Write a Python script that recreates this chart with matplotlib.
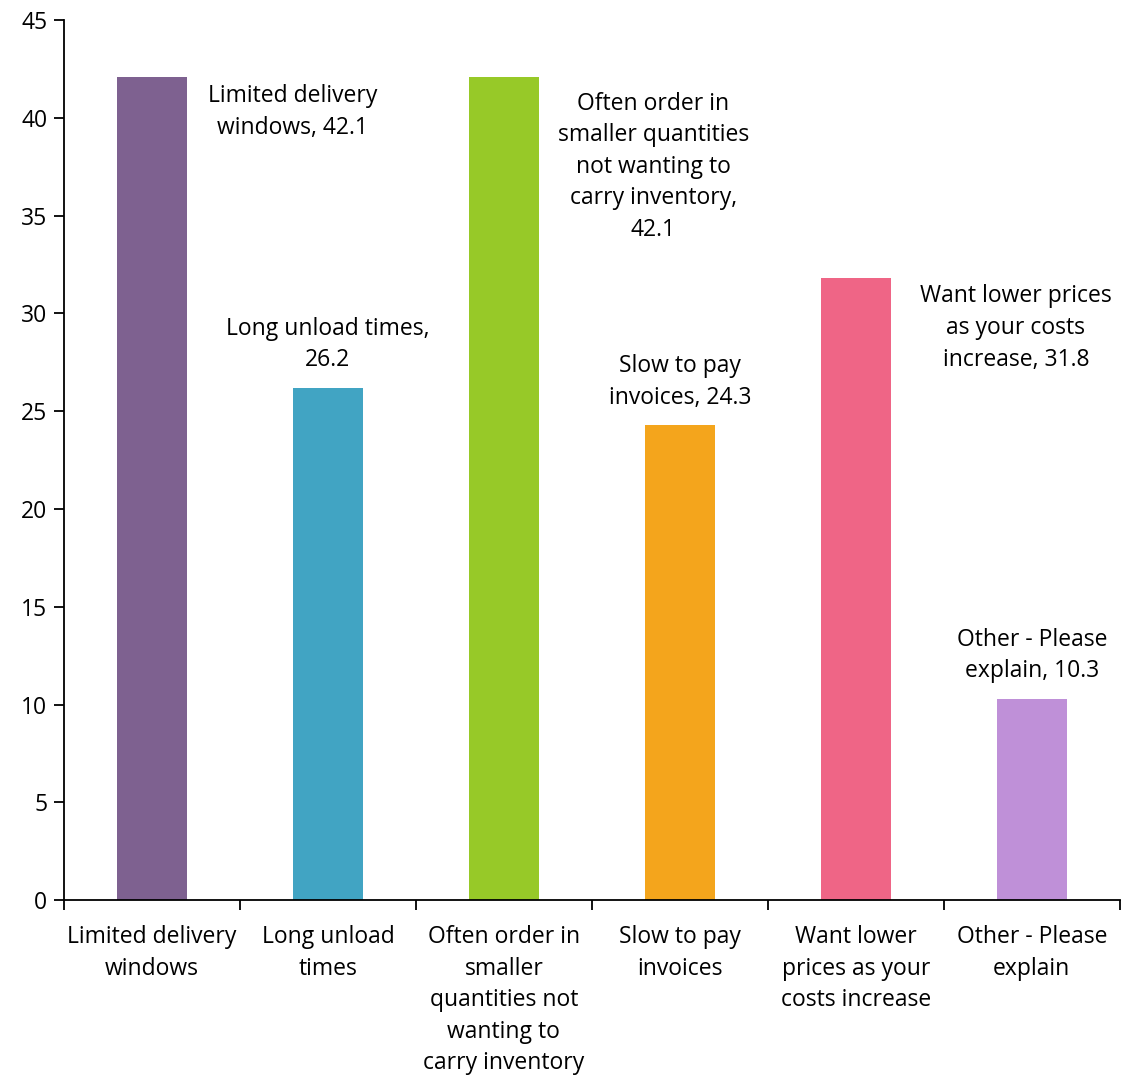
import matplotlib.pyplot as plt
import numpy as np

plt.rcParams['font.family'] = ['Open Sans', 'DejaVu Sans']

categories = [
    "Limited delivery\nwindows",
    "Long unload\ntimes",
    "Often order in\nsmaller\nquantities not\nwanting to\ncarry inventory",
    "Slow to pay\ninvoices",
    "Want lower\nprices as your\ncosts increase",
    "Other - Please\nexplain",
]
label_names = [
    "Limited delivery\nwindows,",
    "Long unload times,\n",
    "Often order in\nsmaller quantities\nnot wanting to\ncarry inventory,\n",
    "Slow to pay\ninvoices,",
    "Want lower prices\nas your costs\nincrease,",
    "Other - Please\nexplain,",
]
values = [42.1, 26.2, 42.1, 24.3, 31.8, 10.3]
colors = ["#7E6190", "#41A4C3", "#97C928", "#F4A51C", "#EF6586", "#BF90D8"]

# label placement relative to each bar (x in category units, y in data units)
label_dx = [0.80, 0.0, 0.85, 0.0, 0.91, 0.0]
label_dy = [-1.8, 2.2, -4.6, 2.2, -2.55, 2.2]

FS = 16.5
LS = 1.42

fig = plt.figure(figsize=(11.22, 10.78), dpi=100)
ax = fig.add_axes([0.057, 0.165, 0.941, 0.8165])

x = np.arange(len(values))
ax.bar(x, values, width=0.4, color=colors)

for i, (name, v) in enumerate(zip(label_names, values)):
    sep = "" if name.endswith("\n") else " "
    ax.text(i + label_dx[i], v + label_dy[i], f"{name}{sep}{v}",
            ha="center", va="center", fontsize=FS, linespacing=LS)

ax.set_xlim(-0.5, len(values) - 0.5)
ax.set_ylim(0, 45)
ax.set_yticks(np.arange(0, 46, 5))
ax.set_xticks(x)
ax.set_xticklabels(categories, fontsize=FS, linespacing=LS)
ax.set_xticks(np.arange(-0.5, len(values)), minor=True)
ax.tick_params(axis="x", which="major", length=0, pad=18)
ax.tick_params(axis="x", which="minor", length=7, width=1.3, direction="out")
ax.tick_params(axis="y", length=7, width=1.3, labelsize=FS, pad=5)

for s in ["top", "right"]:
    ax.spines[s].set_visible(False)
for s in ["left", "bottom"]:
    ax.spines[s].set_linewidth(1.3)

fig.savefig("out.png", dpi=100)
